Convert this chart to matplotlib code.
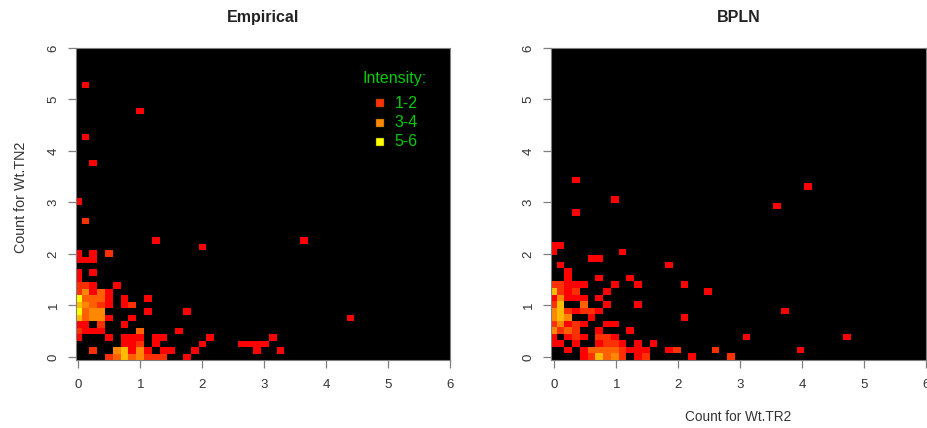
import numpy as np
import matplotlib
matplotlib.use("Agg")
import matplotlib.pyplot as plt
from matplotlib.colors import ListedColormap

plt.rcParams['font.family'] = ['Liberation Sans', 'DejaVu Sans']

# bin index (col, row) and intensity level of every non empty cell
emp_col = [4,5,6,7,8,9,10,11,14, 2,5,6,7,8,9,11,12,15, 6,7,8,10,16,21,22,23,24,
           0,4,6,7,8,10,11,17,25, 0,1,2,3,8,13, 0,1,3,6, 0,1,2,3,4,7, 0,1,2,3,9,14,
           0,1,2,3,4,6,7, 0,1,2,3,4,6,9, 0,1,2,3,4, 0,1,2,5, 0, 0,2,
           0,1,2, 0,2,4, 16,23,26, 10,29, 0,1,8,1,2,35,1]
emp_row = [0]*9 + [1]*9 + [2]*9 + \
          [3]*9 + [4]*6 + [5]*4 + [6]*6 + [7]*6 + \
          [8]*7 + [9]*7 + [10]*5 + [11]*4 + [12] + [13]*2 + \
          [15]*3 + [16]*3 + [17, 1, 1] + [18]*2 + [24, 21, 38, 34, 30, 6, 42]
emp_level = [2,3,5,3,4,2,2,2,1, 2,4,5,1,4,1,1,1,1, 1,1,2,1,1,1,1,1,1,
             1,1,1,1,1,1,1,1,1, 2,1,1,1,3,1, 1,1,2,1, 5,3,4,4,1,1, 6,3,4,4,1,1,
             5,4,3,2,1,1,2, 6,3,3,3,1,1,1, 2,4,1,3,1, 2,2,1,1, 1, 1,1,
             1,1,1, 1,1,2, 1,1,1, 1,1, 1,2,1,1,1,1,1]

bpln_col = [4,5,6,7,8,9,11,12,18,23, 2,4,5,6,7,8,9,10,11,12,15,16,21, 0,1,3,6,7,8,9,11,13,
            0,2,3,4,6,7,8, 0,1,2,3,6,10, 0,1,2,3,4,7,8, 0,1,2,5,17, 0,1,2,3,4,5,6,
            0,1,4,7,11, 0,1,2,3,4,6, 0,1,2,3,7,20, 0,1,2,3,4,8,11,17, 2,6,10, 2,
            1,15, 5,6, 0,9, 0,1, 3,3,8,29,33,30,38,25,32]
bpln_row = [0]*10 + [1]*13 + [2]*9 + \
           [3]*7 + [4]*6 + [5]*7 + [6]*5 + [7]*7 + \
           [8]*5 + [9]*6 + [10]*6 + [11]*8 + [12]*3 + [13] + \
           [14]*2 + [15]*2 + [16]*2 + [17]*2 + [27, 22, 24, 23, 26, 7, 3, 3, 1]
bpln_level = [1,2,5,3,4,2,1,2,1,2, 1,1,3,3,3,3,2,1,1,1,1,2,2, 1,1,1,1,2,2,1,1,1,
              1,1,2,1,2,2,1, 4,2,3,2,1,1, 2,4,1,2,1,1,1, 4,5,4,1,1, 4,5,2,1,2,2,1,
              2,5,3,1,1, 1,4,1,1,1,1, 5,2,1,2,1,1, 2,2,1,1,1,1,1,1, 1,1,1, 1,
              1,1, 1,1, 1,1, 1,1, 1,1,1,1,1,1,1,1,1]

level_colors = ['#ff0000', '#ff3000', '#ff6000', '#ff8800', '#ffbb00', '#ffff00']
legend_levels = [2, 4, 6]
legend_labels = ['1-2', '3-4', '5-6']
ticks = [0, 1, 2, 3, 4, 5, 6]

nbins = 49
cmap = ListedColormap(level_colors)
gray = '#7f7f7f'
txt = '#333333'


def heat(ax, cols, rows, levels, title, x0, xw, yw, xmin):
    grid = np.full((nbins, nbins), np.nan)
    grid[rows, cols] = levels
    x_edges = x0 + xw * np.arange(nbins + 1)
    y_edges = -0.06 + yw * np.arange(nbins + 1)
    ax.set_facecolor('black')
    ax.pcolormesh(x_edges, y_edges, np.ma.masked_invalid(grid), cmap=cmap, vmin=0.5, vmax=6.5)
    ax.set_xlim(xmin, 6)
    ax.set_ylim(-0.06, 6)
    ax.set_xticks(ticks)
    ax.set_yticks(ticks)
    ax.tick_params(length=5.5, width=0.9, color=gray, labelcolor=txt, labelsize=9.5)
    ax.tick_params(axis='x', pad=8)
    ax.tick_params(axis='y', pad=6)
    for lab in ax.get_yticklabels():
        lab.set_rotation(90)
        lab.set_va('center')
    for s in ax.spines.values():
        s.set_color(gray)
        s.set_linewidth(0.8)
    ax.set_title(title, fontsize=11.5, fontweight='bold', color='#222222', pad=19)


fig = plt.figure(figsize=(9.28, 4.28), dpi=100)
ax1 = fig.add_axes([75.7 / 928, 1 - 360 / 428, 374.5 / 928, 312 / 428])
ax2 = fig.add_axes([550.7 / 928, 1 - 360 / 428, 375.3 / 928, 312 / 428])

heat(ax1, emp_col, emp_row, emp_level, 'Empirical', -0.073, 0.1258, 0.1256, -0.042)
heat(ax2, bpln_col, bpln_row, bpln_level, 'BPLN', -0.087, 0.125, 0.1272, -0.058)

ax1.set_ylabel('Count for Wt.TN2', fontsize=10.3, color=txt, labelpad=14, y=0.52)
ax2.set_xlabel('Count for Wt.TR2', fontsize=9.8, color=txt, labelpad=14)

# legend inside the left panel
green = '#00cc00'
fig.text(395 / 928, 1 - 78 / 428, 'Intensity:', color=green, fontsize=11.5, ha='center', va='center')
for i in range(3):
    yy = 103 + i * 19.5
    fig.text(406 / 928, 1 - yy / 428, legend_labels[i], color=green, fontsize=11.5, ha='center', va='center')
    ax1.plot(380 / 928, 1 - yy / 428, 's', ms=5.5, color=level_colors[legend_levels[i] - 1],
             mec='#555500', mew=0.3, transform=fig.transFigure, clip_on=False)

fig.savefig('out.png', dpi=100)
